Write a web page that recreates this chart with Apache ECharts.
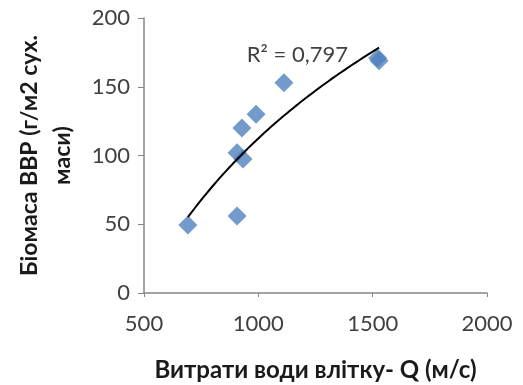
<!DOCTYPE html>
<html>
<head>
<meta charset="utf-8">
<script src="https://cdn.jsdelivr.net/npm/echarts@6/dist/echarts.min.js"></script>
<style>
  html, body { margin: 0; padding: 0; background: #fff; }
  #main { width: 523px; height: 385px; }
</style>
</head>
<body>
<div id="main"></div>
<script>
// витрати води (м/с) та біомаса ВВР
const flowQ = [692, 907, 907, 933, 928, 990, 1112, 1522, 1528];
const biomass = [49.5, 56, 102, 97.5, 120, 130, 153, 171, 169];
const xTicks = [500, 1000, 1500, 2000];
const yTicks = [0, 50, 100, 150, 200];
const r2Text = 'R² = 0,797';

// логарифмічна лінія тренду y = a*ln(x) + b
let n = flowQ.length, sx = 0, sy = 0, sxx = 0, sxy = 0;
for (let i = 0; i < n; i++) {
  const lx = Math.log(flowQ[i]);
  sx += lx; sy += biomass[i]; sxx += lx * lx; sxy += lx * biomass[i];
}
const a = (n * sxy - sx * sy) / (n * sxx - sx * sx);
const b = (sy - a * sx) / n;
const xMin = Math.min(...flowQ), xMax = Math.max(...flowQ);
const trend = [];
for (let k = 0; k <= 60; k++) {
  const x = xMin + (xMax - xMin) * k / 60;
  trend.push([x, a * Math.log(x) + b]);
}

const font = 'Lato, "Noto Sans", sans-serif';
const axisLine = { lineStyle: { color: '#868686', width: 1.5 } };

const myChart = echarts.init(document.getElementById('main'));
myChart.setOption({
  animation: false,
  backgroundColor: '#fff',
  grid: { left: 144, right: 36, top: 18, bottom: 92, outerBoundsMode: 'none', containLabel: false },
  xAxis: {
    type: 'value', min: xTicks[0], max: xTicks[xTicks.length - 1], interval: 500,
    name: 'Витрати води влітку- Q (м/с)', nameLocation: 'middle', nameGap: 65,
    nameTextStyle: { fontFamily: font, fontSize: 24, fontWeight: 'bold', color: '#1a1a1a' },
    axisLine: axisLine, axisTick: { show: true, length: 4, lineStyle: { color: '#868686' } },
    splitLine: { show: false },
    axisLabel: { fontFamily: font, fontSize: 22, color: '#404040', margin: 20, formatter: v => String(v) }
  },
  yAxis: {
    type: 'value', min: yTicks[0], max: yTicks[yTicks.length - 1], interval: 50,
    name: 'Біомаса ВВР (г/м2 сух.\nмаси)', nameLocation: 'middle', nameGap: 65, nameRotate: 90,
    nameTextStyle: { fontFamily: font, fontSize: 23, fontWeight: 'bold', color: '#1a1a1a', lineHeight: 33 },
    axisLine: axisLine, axisTick: { show: true, length: 6, lineStyle: { color: '#868686' } },
    splitLine: { show: false },
    axisLabel: { fontFamily: font, fontSize: 22, color: '#404040', margin: 14, formatter: v => String(v) }
  },
  series: [
    {
      type: 'scatter', symbol: 'diamond', symbolSize: 19,
      itemStyle: { color: '#4f81bd' },
      data: flowQ.map((x, i) => [x, biomass[i]]),
      z: 2
    },
    {
      type: 'line', data: trend, showSymbol: false, smooth: false,
      lineStyle: { color: '#000', width: 2 }, z: 3,
      markPoint: {
        symbol: 'rect', symbolSize: 0,
        label: { show: true, formatter: r2Text, fontFamily: font, fontSize: 22, color: '#404040' },
        data: [{ coord: [1171, 173] }]
      }
    }
  ]
});
</script>
</body>
</html>
